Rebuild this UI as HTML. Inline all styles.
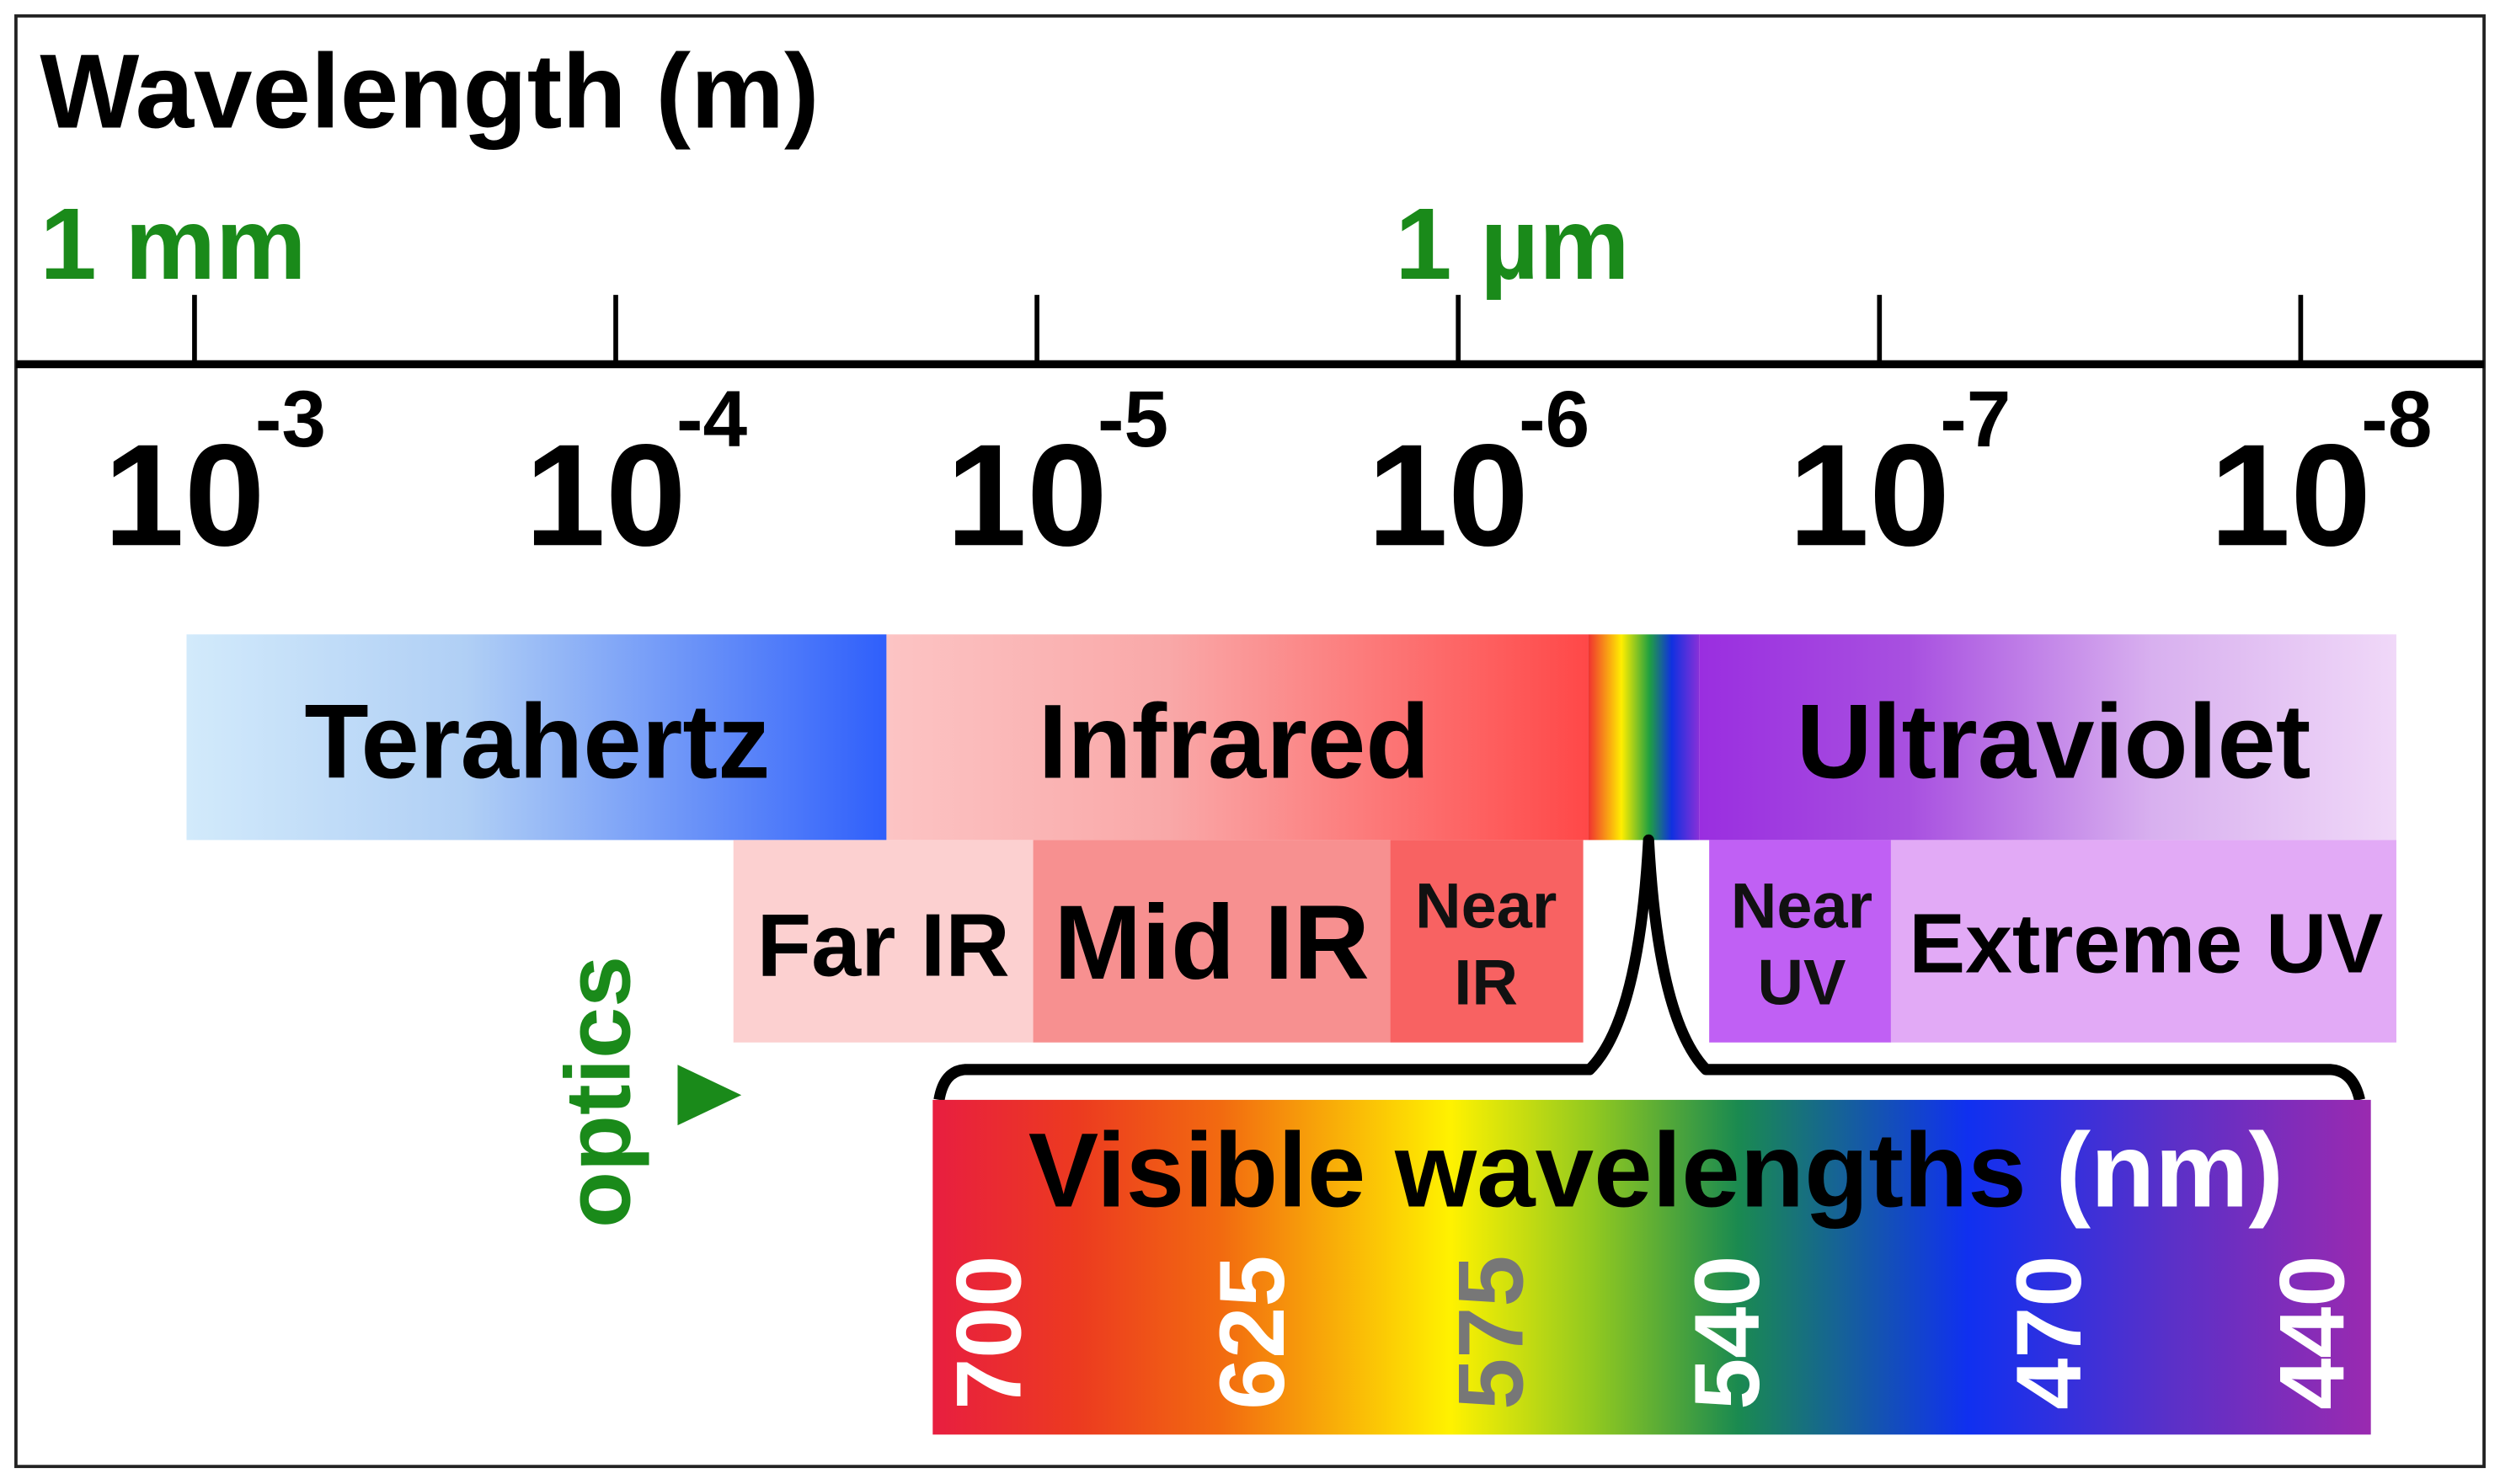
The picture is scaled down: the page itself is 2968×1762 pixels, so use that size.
<!DOCTYPE html>
<html><head><meta charset="utf-8"><style>
html,body{margin:0;padding:0;background:#fff;}
svg{display:block;font-family:"Liberation Sans",Arial,sans-serif;}
</style></head><body>
<svg width="2968" height="1762" viewBox="0 0 1568 931" preserveAspectRatio="none">
<defs>
<linearGradient id="gT" x1="0" x2="1"><stop offset="0" stop-color="#d2eafb"/><stop offset="0.4" stop-color="#b0cff5"/><stop offset="1" stop-color="#2f5ffb"/></linearGradient>
<linearGradient id="gI" x1="0" x2="1"><stop offset="0" stop-color="#fcc4c4"/><stop offset="0.4" stop-color="#f9a8a8"/><stop offset="1" stop-color="#ff4848"/></linearGradient>
<linearGradient id="gR" x1="0" x2="1"><stop offset="0" stop-color="#f03030"/><stop offset="0.3" stop-color="#ffee00"/><stop offset="0.55" stop-color="#20a040"/><stop offset="0.75" stop-color="#1030e0"/><stop offset="1" stop-color="#8a30d8"/></linearGradient>
<linearGradient id="gU" x1="0" x2="1"><stop offset="0" stop-color="#9a2ee0"/><stop offset="0.3" stop-color="#a850e0"/><stop offset="0.65" stop-color="#d8b0ef"/><stop offset="1" stop-color="#f0d8f8"/></linearGradient>
<linearGradient id="gV" x1="0" x2="1"><stop offset="0" stop-color="#e81e40"/><stop offset="0.1" stop-color="#ec3a20"/><stop offset="0.2" stop-color="#f26a10"/><stop offset="0.36" stop-color="#fff200"/><stop offset="0.46" stop-color="#90c820"/><stop offset="0.56" stop-color="#1a8a50"/><stop offset="0.72" stop-color="#1030f0"/><stop offset="0.86" stop-color="#5a30c8"/><stop offset="1" stop-color="#9a2ab0"/></linearGradient>
</defs>
<rect x="10" y="10" width="1548" height="910" fill="#fff" stroke="#222" stroke-width="2"/>
<text x="25" y="80" font-size="66" font-weight="bold">Wavelength (m)</text>
<text x="25" y="175" font-size="64" font-weight="bold" fill="#1a8a1a">1 mm</text>
<text x="875" y="175" font-size="64" font-weight="bold" fill="#1a8a1a">1 µm</text>
<rect x="10" y="226" width="1548" height="5" fill="#000"/>
<g id="ticks"></g>
<rect x="117" y="398" width="439" height="129" fill="url(#gT)"/>
<rect x="556" y="398" width="440" height="129" fill="url(#gI)"/>
<rect x="996" y="398" width="70" height="129" fill="url(#gR)"/>
<rect x="1066" y="398" width="437" height="129" fill="url(#gU)"/>
<text x="337" y="488" font-size="66" font-weight="bold" text-anchor="middle">Terahertz</text>
<text x="774" y="488" font-size="66" font-weight="bold" text-anchor="middle">Infrared</text>
<text x="1288" y="488" font-size="66" font-weight="bold" text-anchor="middle">Ultraviolet</text>
<rect x="460" y="527" width="188" height="127" fill="#fcd0d0"/>
<rect x="648" y="527" width="224" height="127" fill="#f79090"/>
<rect x="872" y="527" width="121" height="127" fill="#f86262"/>
<rect x="1072" y="527" width="114" height="127" fill="#c060f4"/>
<rect x="1186" y="527" width="317" height="127" fill="#e2aaf6"/>
<text x="554" y="612" font-size="56" font-weight="bold" text-anchor="middle">Far IR</text>
<text x="760" y="614" font-size="66" font-weight="bold" text-anchor="middle">Mid IR</text>
<text font-size="40" font-weight="bold" text-anchor="middle" fill="#111"><tspan x="932" y="582">Near</tspan><tspan x="932" y="630">IR</tspan></text>
<text font-size="40" font-weight="bold" text-anchor="middle" fill="#111"><tspan x="1130" y="582">Near</tspan><tspan x="1130" y="630">UV</tspan></text>
<text x="1346" y="610" font-size="53" font-weight="bold" text-anchor="middle">Extreme UV</text>
<path d="M589 690 Q592 672 605 671 L997 671 Q1028 640 1034 527 Q1040 640 1070 671 L1462 671 Q1476 672 1480 690" fill="none" stroke="#000" stroke-width="7" stroke-linejoin="round"/>
<rect x="585" y="690" width="902" height="210" fill="url(#gV)"/>
<text x="645" y="757" font-size="66" font-weight="bold">Visible wavelengths <tspan fill="#fff">(nm)</tspan></text>
<g id="nm"></g>
<text transform="translate(395 685) rotate(-90)" font-size="58" font-weight="bold" fill="#1a8a1a" text-anchor="middle">optics</text>
<polygon points="425,668 465,687 425,706" fill="#1a8a1a"/>
</svg>
<script>
const exponents = [-3, -4, -5, -6, -7, -8];
const nmLabels = [700, 625, 575, 540, 470, 440];
const nmColors = ['#fff', '#fff', '#777', '#fff', '#fff', '#fff'];
const NS = 'http://www.w3.org/2000/svg';
function xLog(e){ return 122 + (-3 - e) * 264.2; }
function xNm(i){ return [620, 785, 935, 1083, 1285, 1450][i]; }
const tg = document.getElementById('ticks');
exponents.forEach(e => {
  const x = xLog(e);
  const t = document.createElementNS(NS, 'rect');
  
  
  t.setAttribute('x', x - 1.5); t.setAttribute('y', 185); t.setAttribute('width', 3); t.setAttribute('height', 43);
  tg.appendChild(t);
  const l = document.createElementNS(NS, 'text');
  
  
  l.setAttribute('x', x - 57); l.setAttribute('y', 342);
  l.setAttribute('font-size', '91'); l.setAttribute('font-weight', 'bold');
  l.textContent = '10';
  tg.appendChild(l);
  const s = document.createElementNS(NS, 'text');
  
  
  s.setAttribute('x', x + 38); s.setAttribute('y', 280);
  s.setAttribute('font-size', '50'); s.setAttribute('font-weight', 'bold');
  s.textContent = String(e);
  tg.appendChild(s);
});
const ng = document.getElementById('nm');
nmLabels.forEach((v, i) => {
  const t = document.createElementNS(NS, 'text');
  
  
  t.setAttribute('transform', 'translate(' + (xNm(i) + 20) + ' 836) rotate(-90)');
  t.setAttribute('font-size', '58'); t.setAttribute('font-weight', 'bold');
  t.setAttribute('text-anchor', 'middle');
  t.setAttribute('fill', nmColors[i]);
  t.textContent = String(v);
  ng.appendChild(t);
});
</script>
</body></html>
